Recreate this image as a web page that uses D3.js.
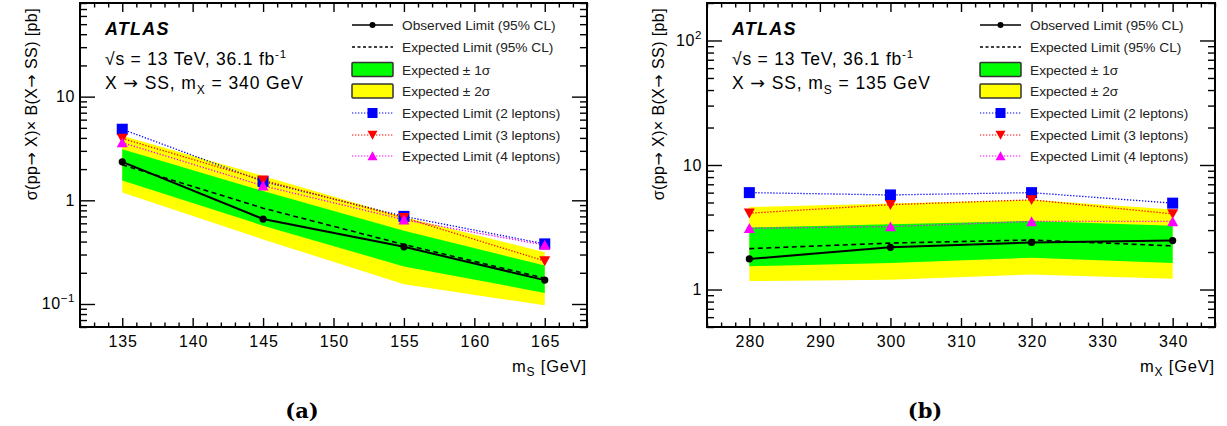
<!DOCTYPE html>
<html>
<head>
<meta charset="utf-8">
<script src="https://cdn.jsdelivr.net/npm/d3@7"></script>
<style>
  html, body { margin: 0; padding: 0; background: #fff; }
</style>
</head>
<body>
<svg id="chart" width="1227" height="426" font-family="Liberation Sans, Arial, Helvetica, sans-serif"></svg>
<script>
// ---------- Data: panel (a), X -> SS, mX = 340 GeV ----------
const massS = [135, 145, 155, 165];
const obsA = [2.35, 0.66, 0.356, 0.17];
const expA = [2.2, 0.84, 0.375, 0.177];
const exp1upA = [3.1, 1.23, 0.51, 0.235];
const exp1dnA = [1.55, 0.57, 0.23, 0.128];
const exp2upA = [4.2, 1.72, 0.69, 0.315];
const exp2dnA = [1.19, 0.42, 0.155, 0.097];
const lep2A = [4.85, 1.52, 0.70, 0.38];
const lep3A = [3.95, 1.56, 0.68, 0.26];
const lep4A = [3.6, 1.38, 0.65, 0.37];

// ---------- Data: panel (b), X -> SS, mS = 135 GeV ----------
const massX = [280, 300, 320, 340];
const obsB = [1.76, 2.18, 2.39, 2.47];
const expB = [2.13, 2.36, 2.5, 2.24];
const exp1upB = [3.15, 3.35, 3.55, 3.25];
const exp1dnB = [1.54, 1.63, 1.8, 1.63];
const exp2upB = [4.6, 4.9, 5.25, 4.4];
const exp2dnB = [1.17, 1.2, 1.32, 1.22];
const lep2B = [6.0, 5.75, 6.0, 4.94];
const lep3B = [4.1, 4.8, 5.25, 4.05];
const lep4B = [3.1, 3.2, 3.52, 3.52];

// ---------- Axis ticks / labels ----------
const xMajorA = [135, 140, 145, 150, 155, 160, 165];
const xMajorB = [280, 290, 300, 310, 320, 330, 340];
const yTicksA = [0.1, 1, 10];
const yLabelsA = [["10", "−1"], ["1", ""], ["10", ""]];
const yTicksB = [1, 10, 100];
const yLabelsB = [["1", ""], ["10", ""], ["10", "2"]];

const legendLabels = [
  "Observed Limit (95% CL)",
  "Expected Limit (95% CL)",
  "Expected \u00b1 1\u03c3",
  "Expected \u00b1 2\u03c3",
  "Expected Limit (2 leptons)",
  "Expected Limit (3 leptons)",
  "Expected Limit (4 leptons)"
];
const yTitle = "\u03c3(pp\u2192 X)\u00d7 B(X\u2192 SS) [pb]";

const svg = d3.select("#chart");
svg.append("rect").attr("width", 1227).attr("height", 426).attr("fill", "#fff");

const COL = { green: "#00ff00", yellow: "#ffff00", blue: "#0000ff", red: "#ff0000", magenta: "#ff00ff" };
const SANS = "Liberation Sans, Arial, Helvetica, sans-serif";

function appendWithArrows(t, str) {
  str.split(/(\u2192)/).forEach(part => {
    if (!part) return;
    const sp = t.append("tspan").text(part);
    if (part === "\u2192") sp.attr("font-family", "DejaVu Sans, sans-serif");
  });
}

function minorLinear(domain, step) {
  const out = [];
  const start = Math.ceil(domain[0] / step) * step;
  for (let v = start; v <= domain[1] + 1e-9; v += step) out.push(+v.toFixed(6));
  return out;
}
function minorLog(domain) {
  const out = [];
  const lo = Math.floor(Math.log10(domain[0])), hi = Math.ceil(Math.log10(domain[1]));
  for (let e = lo; e <= hi; e++) {
    for (let k = 2; k <= 9; k++) {
      const v = k * Math.pow(10, e);
      if (v >= domain[0] && v <= domain[1]) out.push(v);
    }
  }
  return out;
}

function drawPanel(cfg) {
  const g = svg.append("g");
  const x = d3.scaleLinear().domain(cfg.xDomain).range([cfg.left, cfg.right]);
  const y = d3.scaleLog().domain(cfg.yDomain).range([cfg.bottom, cfg.top]);

  const clipId = "clip" + cfg.id;
  svg.append("clipPath").attr("id", clipId).append("rect")
    .attr("x", cfg.left).attr("y", cfg.top)
    .attr("width", cfg.right - cfg.left).attr("height", cfg.bottom - cfg.top);
  const plot = g.append("g").attr("clip-path", `url(#${clipId})`);

  const band = (lo, hi) => d3.area()
    .x((d, i) => x(cfg.xs[i])).y0((d, i) => y(lo[i])).y1((d, i) => y(hi[i]));
  plot.append("path").datum(cfg.xs).attr("d", band(cfg.e2dn, cfg.e2up)).attr("fill", COL.yellow);
  plot.append("path").datum(cfg.xs).attr("d", band(cfg.e1dn, cfg.e1up)).attr("fill", COL.green);

  const lineOf = vals => d3.line().x((d, i) => x(cfg.xs[i])).y((d, i) => y(vals[i]));

  const leps = [
    { v: cfg.lep2, c: COL.blue, m: "square" },
    { v: cfg.lep3, c: COL.red, m: "down" },
    { v: cfg.lep4, c: COL.magenta, m: "up" }
  ];
  leps.forEach(L => {
    plot.append("path").datum(cfg.xs).attr("d", lineOf(L.v)).attr("fill", "none")
      .attr("stroke", L.c).attr("stroke-width", 1.3).attr("stroke-dasharray", "1.3,1.7");
  });

  plot.append("path").datum(cfg.xs).attr("d", lineOf(cfg.exp)).attr("fill", "none")
    .attr("stroke", "#000").attr("stroke-width", 1.6).attr("stroke-dasharray", "5,3.5");
  plot.append("path").datum(cfg.xs).attr("d", lineOf(cfg.obs)).attr("fill", "none")
    .attr("stroke", "#000").attr("stroke-width", 2);
  plot.selectAll("circle.obs").data(cfg.xs).enter().append("circle")
    .attr("cx", d => x(d)).attr("cy", (d, i) => y(cfg.obs[i])).attr("r", 3.6).attr("fill", "#000");

  leps.forEach(L => {
    cfg.xs.forEach((xv, i) => drawMarker(plot, L.m, x(xv), y(L.v[i]), L.c, 11));
  });

  // ---- axes ----
  const xMinor = minorLinear(cfg.xDomain, cfg.xMinorStep).filter(v => !cfg.xMajor.includes(v));
  const yMinor = minorLog(cfg.yDomain);

  const axBot = g.append("g").attr("transform", `translate(0,${cfg.bottom})`)
    .call(d3.axisBottom(x).tickValues(cfg.xMajor).tickSize(-9).tickPadding(8.5).tickFormat(d3.format("d")));
  axBot.selectAll("text").attr("font-size", 16).attr("fill", "#000")
    .attr("font-family", SANS).attr("letter-spacing", 0.9).attr("dx", 0.45);
  g.append("g").attr("transform", `translate(0,${cfg.bottom})`)
    .call(d3.axisBottom(x).tickValues(xMinor).tickSize(-4.5).tickFormat(""));
  g.append("g").attr("transform", `translate(0,${cfg.top})`)
    .call(d3.axisTop(x).tickValues(cfg.xMajor).tickSize(-9).tickFormat(""));
  g.append("g").attr("transform", `translate(0,${cfg.top})`)
    .call(d3.axisTop(x).tickValues(xMinor).tickSize(-4.5).tickFormat(""));

  g.append("g").attr("transform", `translate(${cfg.left},0)`)
    .call(d3.axisLeft(y).tickValues(cfg.yTicks).tickSize(-15).tickFormat(""));
  g.append("g").attr("transform", `translate(${cfg.left},0)`)
    .call(d3.axisLeft(y).tickValues(yMinor).tickSize(-7).tickFormat(""));
  g.append("g").attr("transform", `translate(${cfg.right},0)`)
    .call(d3.axisRight(y).tickValues(cfg.yTicks).tickSize(-15).tickFormat(""));
  g.append("g").attr("transform", `translate(${cfg.right},0)`)
    .call(d3.axisRight(y).tickValues(yMinor).tickSize(-7).tickFormat(""));

  g.selectAll(".domain").remove();
  g.selectAll(".tick line").attr("stroke", "#000").attr("stroke-width", 1.4);

  cfg.yTicks.forEach((v, i) => {
    const [base, sup] = cfg.yLabels[i];
    const t = g.append("text").attr("x", cfg.left - 5).attr("y", y(v) + 5.5)
      .attr("text-anchor", "end").attr("font-size", 16).attr("letter-spacing", 0.6).attr("fill", "#000");
    t.append("tspan").text(base);
    if (sup) t.append("tspan").attr("dy", -7).attr("font-size", 11.5).text(sup);
  });

  g.append("rect").attr("x", cfg.left).attr("y", cfg.top)
    .attr("width", cfg.right - cfg.left).attr("height", cfg.bottom - cfg.top)
    .attr("fill", "none").attr("stroke", "#000").attr("stroke-width", 2);

  const yt = g.append("text").attr("transform", `translate(${cfg.left - 43},8) rotate(-90)`)
    .attr("text-anchor", "end").attr("font-size", 16).attr("letter-spacing", 0.4).attr("fill", "#000");
  appendWithArrows(yt, yTitle);
  const xt = g.append("text").attr("x", cfg.right).attr("y", 372).attr("text-anchor", "end")
    .attr("font-size", 16.5).attr("letter-spacing", 0.8).attr("fill", "#000");
  xt.append("tspan").text("m");
  xt.append("tspan").attr("dy", 4).attr("font-size", 12).text(cfg.xSub);
  xt.append("tspan").attr("dy", -4).text(cfg.xTitleRest);

  const tx = cfg.left + 25;
  g.append("text").attr("x", tx).attr("y", 35).attr("font-size", 18).attr("font-weight", "bold")
    .attr("font-style", "italic").attr("letter-spacing", 1.2).attr("fill", "#000").text("ATLAS");
  const s1 = g.append("text").attr("x", tx).attr("y", 65).attr("font-size", 17.5)
    .attr("letter-spacing", 0.8).attr("fill", "#000");
  s1.append("tspan").text("\u221as = 13 TeV, 36.1 fb");
  s1.append("tspan").attr("dy", -7).attr("font-size", 11.5).text("-1");
  const s2 = g.append("text").attr("x", tx).attr("y", 89).attr("font-size", 17.5)
    .attr("letter-spacing", 0.9).attr("fill", "#000");
  appendWithArrows(s2, "X \u2192 SS, m");
  s2.append("tspan").attr("dy", 5).attr("font-size", 12).text(cfg.procSub);
  s2.append("tspan").attr("dy", -5).text(cfg.procRest);

  // legend
  const lx0 = cfg.right - 235, lx1 = cfg.right - 194, ltx = cfg.right - 185;
  const rows = [25, 47, 69.5, 91, 113, 135, 156];
  const lg = g.append("g");
  legendLabels.forEach((lab, i) => {
    const ry = rows[i];
    lg.append("text").attr("x", ltx).attr("y", ry + 5).attr("font-size", 13.7)
      .attr("fill", "#222").text(lab);
  });
  lg.append("line").attr("x1", lx0).attr("x2", lx1).attr("y1", rows[0]).attr("y2", rows[0])
    .attr("stroke", "#000").attr("stroke-width", 1.6);
  lg.append("circle").attr("cx", (lx0 + lx1) / 2).attr("cy", rows[0]).attr("r", 3).attr("fill", "#000");
  lg.append("line").attr("x1", lx0).attr("x2", lx1).attr("y1", rows[1]).attr("y2", rows[1])
    .attr("stroke", "#000").attr("stroke-width", 1.4).attr("stroke-dasharray", "3,2.5");
  [[COL.green, rows[2]], [COL.yellow, rows[3]]].forEach(([c, ry]) => {
    lg.append("rect").attr("x", lx0).attr("y", ry - 7).attr("width", lx1 - lx0).attr("height", 14)
      .attr("fill", c).attr("stroke", "#333").attr("stroke-width", 1.5).attr("rx", 1);
  });
  leps.forEach((L, k) => {
    const ry = rows[4 + k];
    lg.append("line").attr("x1", lx0).attr("x2", lx1).attr("y1", ry).attr("y2", ry)
      .attr("stroke", L.c).attr("stroke-width", 1.2).attr("stroke-dasharray", "1.3,1.7");
    drawMarker(lg, L.m, (lx0 + lx1) / 2, ry, L.c, 10);
  });

  svg.append("text").attr("x", cfg.panelX).attr("y", 418).attr("text-anchor", "middle")
    .attr("font-family", "DejaVu Serif, serif").attr("font-weight", "bold").attr("font-size", 21)
    .attr("fill", "#000").text(cfg.panelLabel);
}

function drawMarker(g, type, cx, cy, color, s) {
  const h = s / 2;
  if (type === "square") {
    g.append("rect").attr("x", cx - h).attr("y", cy - h).attr("width", s).attr("height", s).attr("fill", color);
  } else if (type === "down") {
    g.append("path").attr("d", `M${cx - h},${cy - h * 0.85}L${cx + h},${cy - h * 0.85}L${cx},${cy + h * 0.95}Z`).attr("fill", color);
  } else {
    g.append("path").attr("d", `M${cx - h},${cy + h * 0.85}L${cx + h},${cy + h * 0.85}L${cx},${cy - h * 0.95}Z`).attr("fill", color);
  }
}

drawPanel({
  id: "a", left: 80, right: 587, top: 3, bottom: 327,
  xDomain: [132, 168], yDomain: [0.06, 80],
  xs: massS, obs: obsA, exp: expA, e1up: exp1upA, e1dn: exp1dnA, e2up: exp2upA, e2dn: exp2dnA,
  lep2: lep2A, lep3: lep3A, lep4: lep4A,
  xMajor: xMajorA, xMinorStep: 1, yTicks: yTicksA, yLabels: yLabelsA,
  xSub: "S", xTitleRest: " [GeV]", procSub: "X", procRest: " = 340 GeV",
  panelX: 302, panelLabel: "(a)"
});
drawPanel({
  id: "b", left: 707, right: 1215, top: 3, bottom: 327,
  xDomain: [274, 346], yDomain: [0.5, 200],
  xs: massX, obs: obsB, exp: expB, e1up: exp1upB, e1dn: exp1dnB, e2up: exp2upB, e2dn: exp2dnB,
  lep2: lep2B, lep3: lep3B, lep4: lep4B,
  xMajor: xMajorB, xMinorStep: 2, yTicks: yTicksB, yLabels: yLabelsB,
  xSub: "X", xTitleRest: "  [GeV]", procSub: "S", procRest: " = 135 GeV",
  panelX: 925, panelLabel: "(b)"
});
</script>
</body>
</html>
